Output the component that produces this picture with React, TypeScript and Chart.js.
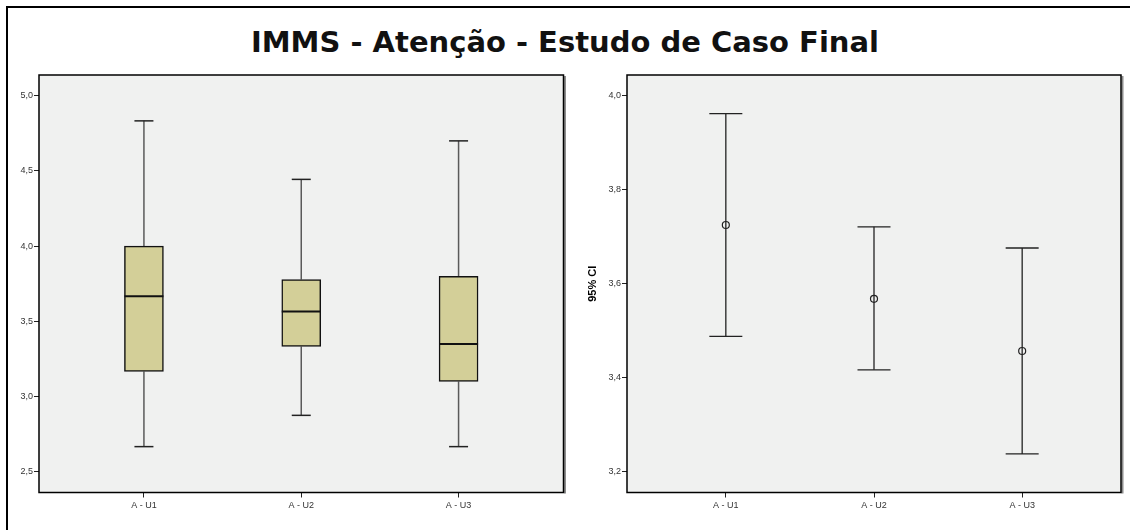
import React, { useEffect, useRef } from 'react';
import { Chart, registerables } from 'chart.js';
Chart.register(...registerables);

// ---- Data ----
const categories = ['A - U1', 'A - U2', 'A - U3'];
const whiskerLow = [2.667, 2.875, 2.667];
const q1 = [3.167, 3.333, 3.1];
const median = [3.667, 3.565, 3.35];
const q3 = [4.0, 3.778, 3.8];
const whiskerHigh = [4.833, 4.444, 4.7];
const boxTicks = [2.5, 3.0, 3.5, 4.0, 4.5, 5.0];

const ciMean = [3.725, 3.568, 3.457];
const ciLow = [3.488, 3.417, 3.238];
const ciHigh = [3.962, 3.721, 3.676];
const ciTicks = [3.2, 3.4, 3.6, 3.8, 4.0];

const titleText = 'IMMS - Atenção - Estudo de Caso Final';
const ciAxisTitle = '95% CI';

const FONT = "'Liberation Sans', Arial, sans-serif";
const fmt = (v: number) => v.toFixed(1).replace('.', ',');

const panelPlugin = {
  id: 'panel',
  beforeDraw(chart: any) {
    const { ctx, chartArea: a } = chart;
    ctx.save();
    ctx.fillStyle = '#f0f1f0';
    ctx.fillRect(a.left, a.top, a.right - a.left, a.bottom - a.top);
    ctx.restore();
  },
  afterDraw(chart: any) {
    const { ctx, chartArea: a } = chart;
    ctx.save();
    ctx.fillStyle = '#8c8c8c';
    ctx.fillRect(a.right + 0.5, a.top + 1, 2, a.bottom - a.top);
    ctx.strokeStyle = '#000';
    ctx.lineWidth = 1.5;
    ctx.strokeRect(a.left, a.top, a.right - a.left, a.bottom - a.top);
    ctx.restore();
  },
};

function seg(ctx: CanvasRenderingContext2D, x1: number, y1: number, x2: number, y2: number) {
  ctx.beginPath();
  ctx.moveTo(x1, y1);
  ctx.lineTo(x2, y2);
  ctx.stroke();
}

const boxExtras = {
  id: 'boxExtras',
  beforeDatasetsDraw(chart: any) {
    const { ctx, scales: { x, y } } = chart;
    ctx.save();
    categories.forEach((_, i) => {
      const px = x.getPixelForValue(i);
      ctx.strokeStyle = '#5a5a5a';
      ctx.lineWidth = 1.5;
      seg(ctx, px, y.getPixelForValue(whiskerHigh[i]), px, y.getPixelForValue(q3[i]));
      seg(ctx, px, y.getPixelForValue(q1[i]), px, y.getPixelForValue(whiskerLow[i]));
      ctx.strokeStyle = '#222';
      ctx.lineWidth = 1.5;
      seg(ctx, px - 9.5, y.getPixelForValue(whiskerHigh[i]), px + 9.5, y.getPixelForValue(whiskerHigh[i]));
      seg(ctx, px - 9.5, y.getPixelForValue(whiskerLow[i]), px + 9.5, y.getPixelForValue(whiskerLow[i]));
    });
    ctx.restore();
  },
  afterDatasetsDraw(chart: any) {
    const { ctx, scales: { x, y } } = chart;
    ctx.save();
    categories.forEach((_, i) => {
      const px = x.getPixelForValue(i);
      ctx.strokeStyle = '#111';
      ctx.lineWidth = 2;
      seg(ctx, px - 19.5, y.getPixelForValue(median[i]), px + 19.5, y.getPixelForValue(median[i]));
    });
    ctx.restore();
  },
};

const errorBars = {
  id: 'errorBars',
  beforeDatasetsDraw(chart: any) {
    const { ctx, scales: { x, y } } = chart;
    ctx.save();
    categories.forEach((_, i) => {
      const px = x.getPixelForValue(i);
      ctx.strokeStyle = '#222';
      ctx.lineWidth = 1.3;
      seg(ctx, px, y.getPixelForValue(ciHigh[i]), px, y.getPixelForValue(ciLow[i]));
      seg(ctx, px - 16.5, y.getPixelForValue(ciHigh[i]), px + 16.5, y.getPixelForValue(ciHigh[i]));
      seg(ctx, px - 16.5, y.getPixelForValue(ciLow[i]), px + 16.5, y.getPixelForValue(ciLow[i]));
    });
    ctx.restore();
  },
};

const xScale = {
  type: 'linear' as const,
  min: -0.667,
  max: 2.667,
  offset: false,
  afterBuildTicks: (s: any) => {
    s.ticks = categories.map((_, i) => ({ value: i }));
  },
  afterFit: (s: any) => {
    s.height = 30;
  },
  ticks: {
    callback: (v: any) => categories[Math.round(Number(v))] ?? '',
    font: { size: 9, family: FONT },
    color: '#333',
    padding: 3,
    maxRotation: 0,
  },
  grid: { display: true, offset: false, drawOnChartArea: false, drawTicks: true, tickLength: 5, color: '#222' },
  border: { display: false },
};

function makeYScale(min: number, max: number, ticks: number[], width: number, title?: string) {
  return {
    type: 'linear' as const,
    min,
    max,
    afterBuildTicks: (s: any) => {
      s.ticks = ticks.map((v) => ({ value: v }));
    },
    afterFit: (s: any) => {
      s.width = width;
    },
    ticks: {
      callback: (v: any) => fmt(Number(v)),
      font: { size: 9, family: FONT },
      color: '#333',
      padding: 1,
    },
    grid: { display: true, drawOnChartArea: false, drawTicks: true, tickLength: 5, color: '#222' },
    border: { display: false },
    title: title
      ? {
          display: true,
          text: title,
          font: { size: 11, weight: 'bold' as const, family: FONT },
          color: '#000',
          padding: { top: 3, bottom: 0 },
        }
      : { display: false },
  };
}

export default function App() {
  const leftRef = useRef<HTMLCanvasElement>(null);
  const rightRef = useRef<HTMLCanvasElement>(null);

  useEffect(() => {
    const left = new Chart(leftRef.current!, {
      type: 'bar',
      data: {
        datasets: [
          {
            data: categories.map((_, i) => ({ x: i, y: [q1[i], q3[i]] })) as any,
            backgroundColor: '#d3cf98',
            borderColor: '#111',
            borderWidth: 1.5,
            borderSkipped: false,
            barThickness: 39,
          },
        ],
      },
      options: {
        animation: false,
        responsive: false,
        events: [],
        layout: { padding: { top: 75, left: 0, right: 6.5, bottom: 7.5 } },
        plugins: { legend: { display: false }, tooltip: { enabled: false }, title: { display: false } },
        scales: {
          x: xScale as any,
          y: makeYScale(2.362, 5.138, boxTicks, 39) as any,
        },
      },
      plugins: [panelPlugin, boxExtras],
    });

    const right = new Chart(rightRef.current!, {
      type: 'scatter',
      data: {
        datasets: [
          {
            data: categories.map((_, i) => ({ x: i, y: ciMean[i] })),
            pointRadius: 3.5,
            pointBorderColor: '#222',
            pointBackgroundColor: 'rgba(0,0,0,0)',
            pointBorderWidth: 1.2,
          },
        ],
      },
      options: {
        animation: false,
        responsive: false,
        events: [],
        layout: { padding: { top: 75, left: 0, right: 9, bottom: 7.5 } },
        plugins: { legend: { display: false }, tooltip: { enabled: false }, title: { display: false } },
        scales: {
          x: xScale as any,
          y: makeYScale(3.156, 4.044, ciTicks, 44, ciAxisTitle) as any,
        },
      },
      plugins: [panelPlugin, errorBars],
    });

    return () => {
      left.destroy();
      right.destroy();
    };
  }, []);

  return (
    <div
      style={{
        position: 'fixed',
        left: 0,
        top: 0,
        width: 1130,
        height: 530,
        background: '#fff',
        overflow: 'hidden',
      }}
    >
      <div
        style={{
          position: 'absolute',
          left: 6,
          top: 6,
          width: 1200,
          height: 600,
          borderLeft: '2px solid #000',
          borderTop: '2px solid #000',
        }}
      />
      <div
        style={{
          position: 'absolute',
          left: 0,
          top: 25,
          width: 1130,
          textAlign: 'center',
          fontFamily: "'DejaVu Sans', sans-serif",
          fontWeight: 'bold',
          fontSize: 29,
          lineHeight: '34px',
          color: '#111',
        }}
      >
        {titleText}
      </div>
      <canvas
        ref={leftRef}
        width={570}
        height={530}
        style={{ position: 'absolute', left: 0, top: 0, width: 570, height: 530 }}
      />
      <canvas
        ref={rightRef}
        width={547}
        height={530}
        style={{ position: 'absolute', left: 583, top: 0, width: 547, height: 530 }}
      />
    </div>
  );
}
